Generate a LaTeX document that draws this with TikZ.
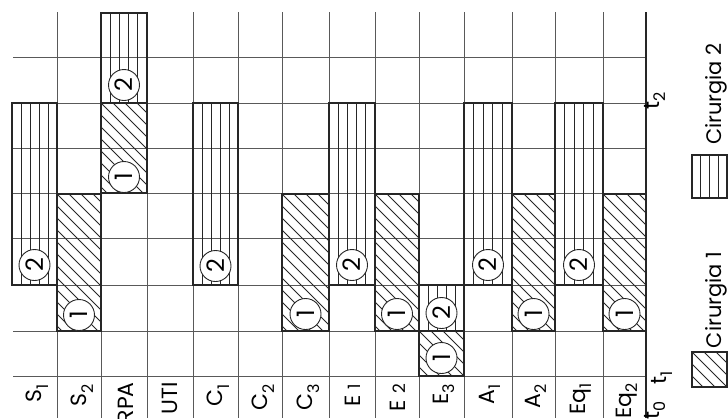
\documentclass[tikz,border=0pt]{standalone}
\usepackage{fontspec}
\setmainfont{Poppins}
\newcommand\sub[1]{\raisebox{-0.3em}{\fontsize{16}{16}\selectfont #1}}
\newcommand\sml[1]{{\fontsize{17}{17}\selectfont #1}}
\tikzset{
  gridline/.style={draw=black!65, line width=0.9pt},
  axisline/.style={draw=black!85, line width=1.1pt},
  barframe/.style={draw=black!85, line width=1.3pt},
  fillline/.style={draw=black!85, line width=0.8pt},
  num/.style={circle, draw=black!85, line width=0.9pt, fill=white, minimum size=31pt,
    inner sep=0pt, rotate=90, font=\fontsize{24}{24}\selectfont},
  lab/.style={rotate=90, anchor=east, inner sep=0pt, font=\fontsize{22}{24}\selectfont},
  tlab/.style={rotate=90, anchor=base west, inner sep=0pt, font=\fontsize{22}{24}\selectfont},
  leg/.style={rotate=90, inner sep=0pt, font=\fontsize{21}{22}\selectfont},
}
\newcommand\hatchrect[4]{%
  \begin{scope}
    \clip (#1,#2) rectangle (#3,#4);
    \foreach \t in {-204,-192,...,60} \draw[fillline] ({#1+\t},#2) -- ++(300,300);
  \end{scope}
  \draw[barframe] (#1,#2) rectangle (#3,#4);}
\newcommand\vlinerect[5]{%
  \foreach \i in {1,...,#5} \draw[fillline] ({#1+(#3-#1)*\i/(#5+1)},#2) -- ({#1+(#3-#1)*\i/(#5+1)},#4);
  \draw[barframe] (#1,#2) rectangle (#3,#4);}
\begin{document}
\begin{tikzpicture}[x=1pt,y=-1pt]
\useasboundingbox (0,0) rectangle (728,418);
% grid
\foreach \yy in {57,103,148,193,238,285,331,376}
  \draw[gridline] (13,\yy) -- (646,\yy);
\foreach \xx in {57,101,147,193,238,282,329,375,419,464,512,555,603}
  \draw[gridline] (\xx,12) -- (\xx,418);
\draw[axisline] (646,12) -- (646,418);
% bars: Cirurgia 2 (vertical lines)
\vlinerect{12}{103}{57}{285}{4}
\vlinerect{101}{13}{147}{103}{4}
\vlinerect{193}{103}{238}{285}{4}
\vlinerect{329}{103}{375}{285}{4}
\vlinerect{419}{285}{464}{331}{4}
\vlinerect{464}{103}{512}{285}{4}
\vlinerect{555}{103}{603}{285}{4}
% bars: Cirurgia 1 (hatched)
\hatchrect{57}{194}{101}{331}
\hatchrect{101}{103}{147}{193}
\hatchrect{282}{194}{329}{331}
\hatchrect{375}{194}{419}{331}
\hatchrect{419}{331}{464}{376}
\hatchrect{512}{194}{555}{331}
\hatchrect{603}{194}{646}{331}
% numbered circles
\node[num] (cS1) at (34.5,265) {2};
\node[num] (cS2) at (79,315) {1};
\node[num] (cRPA1) at (124,177) {1};
\node[num] (cRPA2) at (124,85) {2};
\node[num] (cC1) at (215.5,266) {2};
\node[num] (cC3) at (305.5,314) {1};
\node[num] (cE1) at (352,265) {2};
\node[num] (cE2) at (397,314) {1};
\node[num] (cE3a) at (441.5,358) {1};
\node[num] (cE3b) at (441.5,313) {2};
\node[num] (cA1) at (488,265) {2};
\node[num] (cA2) at (533.5,314) {1};
\node[num] (cEq1) at (579,265) {2};
\node[num] (cEq2) at (624.5,314) {1};
% resource labels
\node[lab] (lS1) at (37,384) {S\sub{1}};
\node[lab] (lS2) at (82,384) {S\sub{2}};
\node[lab] (lRPA) at (126,382) {RPA};
\node[lab] (lUTI) at (170,382) {UTI};
\node[lab] (lC1) at (218,384) {C\sub{1}};
\node[lab] (lC2) at (263,384) {C\sub{2}};
\node[lab] (lC3) at (308,384) {C\sub{3}};
\node[lab] (lE1) at (353,384) {E \sml{1}};
\node[lab] (lE2) at (398,384) {E \sml{2}};
\node[lab] (lE3) at (444,384) {E\sub{3}};
\node[lab] (lA1) at (490,384) {A\sub{1}};
\node[lab] (lA2) at (536,384) {A\sub{2}};
\node[lab] (lEq1) at (581,383) {Eq\sub{1}};
\node[lab] (lEq2) at (627,383) {Eq\sub{2}};
% time labels
\node[tlab] (t0) at (659,420) {t\sub{0}};
\node[tlab] (t1) at (666,385) {t\sub{1}};
\node[tlab] (t2) at (659,110) {t\sub{2}};
% legend
\vlinerect{692}{155}{727}{198}{3}
\hatchrect{692}{352}{727}{387}
\node[leg] (leg2) at (716,94) {Cirurgia 2};
\node[leg] (leg1) at (716,300) {Cirurgia 1};
\end{tikzpicture}
\end{document}
